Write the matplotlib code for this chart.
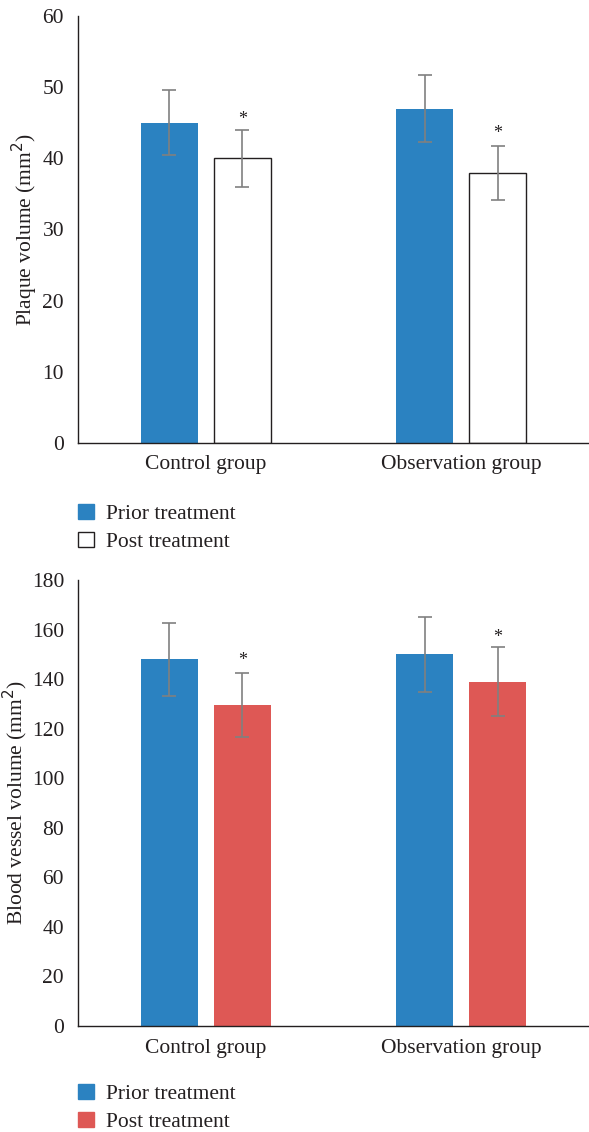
import matplotlib
matplotlib.use("Agg")
import matplotlib.pyplot as plt
import numpy as np
from matplotlib.patches import Patch

plt.rcParams['font.family'] = ['Liberation Serif', 'DejaVu Serif']

categories = ["Control group", "Observation group"]
series = ["Prior treatment", "Post treatment"]

plaque_prior = [45.0, 47.0]
plaque_prior_err = [4.6, 4.7]
plaque_post = [40.0, 38.0]
plaque_post_err = [4.0, 3.8]
plaque_star_y = [45.4, 43.5]
plaque_ticks = [0, 10, 20, 30, 40, 50, 60]

vessel_prior = [148.0, 150.0]
vessel_prior_err = [14.7, 15.0]
vessel_post = [129.5, 139.0]
vessel_post_err = [13.0, 14.0]
vessel_star_y = [147.4, 156.8]
vessel_ticks = [0, 20, 40, 60, 80, 100, 120, 140, 160, 180]

BLUE = "#2B82C1"
RED = "#DE5855"
ERR = "#808080"
TXT = "#231F20"
FS = 15.5

W, H = 589, 1132
fig = plt.figure(figsize=(W / 100, H / 100), dpi=100)

def px_axes(left, top, right, bottom):
    return fig.add_axes([left / W, 1 - bottom / H, (right - left) / W, (bottom - top) / H])

def draw(ax, prior, perr, post, perr2, stars, ticks, post_face, post_edge, ylabel, label_x_px):
    x = np.arange(len(categories))
    off = 0.1426
    w = 0.223
    ax.bar(x - off, prior, w, color=BLUE, zorder=2)
    ax.bar(x + off, post, w, facecolor=post_face, edgecolor=post_edge,
           linewidth=1.0 if post_edge != post_face else 0, zorder=2)
    ax.errorbar(x - off, prior, yerr=perr, fmt='none', ecolor=ERR, elinewidth=1.2,
                capsize=5, capthick=1.2, zorder=3)
    ax.errorbar(x + off, post, yerr=perr2, fmt='none', ecolor=ERR, elinewidth=1.2,
                capsize=5, capthick=1.2, zorder=3)
    for xi, sy in zip(x + off, stars):
        ax.text(xi, sy, "*", ha='center', va='center', fontsize=13, color=TXT)
    ax.set_xlim(-0.5, 1.5)
    ax.set_ylim(ticks[0], ticks[-1])
    ax.set_yticks(ticks)
    ax.set_xticks(x)
    ax.set_xticklabels(categories)
    ax.tick_params(axis='both', length=0, labelsize=FS, colors=TXT)
    ax.tick_params(axis='x', pad=9)
    ax.tick_params(axis='y', pad=10)
    for s in ['top', 'right']:
        ax.spines[s].set_visible(False)
    for s in ['left', 'bottom']:
        ax.spines[s].set_color('#231F20')
        ax.spines[s].set_linewidth(1.0)
    ax.set_ylabel(ylabel, fontsize=FS, color=TXT)
    ax.yaxis.label.set_verticalalignment('center')
    ax.yaxis.set_label_coords((label_x_px - 78) / 511, 0.5)

ax1 = px_axes(78, 16, 589, 443)
draw(ax1, plaque_prior, plaque_prior_err, plaque_post, plaque_post_err, plaque_star_y,
     plaque_ticks, "white", "#231F20", "Plaque volume (mm$^2$)", 25)

ax2 = px_axes(78, 580, 589, 1026)
draw(ax2, vessel_prior, vessel_prior_err, vessel_post, vessel_post_err, vessel_star_y,
     vessel_ticks, RED, RED, "Blood vessel volume (mm$^2$)", 15)

def legend(ax, post_face, post_edge, top_px):
    handles = [Patch(facecolor=BLUE, edgecolor=BLUE, label=series[0]),
               Patch(facecolor=post_face, edgecolor=post_edge, label=series[1])]
    fig.legend(handles=handles, loc='upper left', bbox_to_anchor=(69 / W, 1 - top_px / H),
               frameon=False, fontsize=FS, handlelength=0.75, handleheight=0.75,
               handletextpad=0.55, labelspacing=0.35, borderaxespad=0, labelcolor=TXT)

legend(ax1, "white", "#231F20", 495)
legend(ax2, RED, RED, 1075)

fig.savefig("out.png", dpi=100)
